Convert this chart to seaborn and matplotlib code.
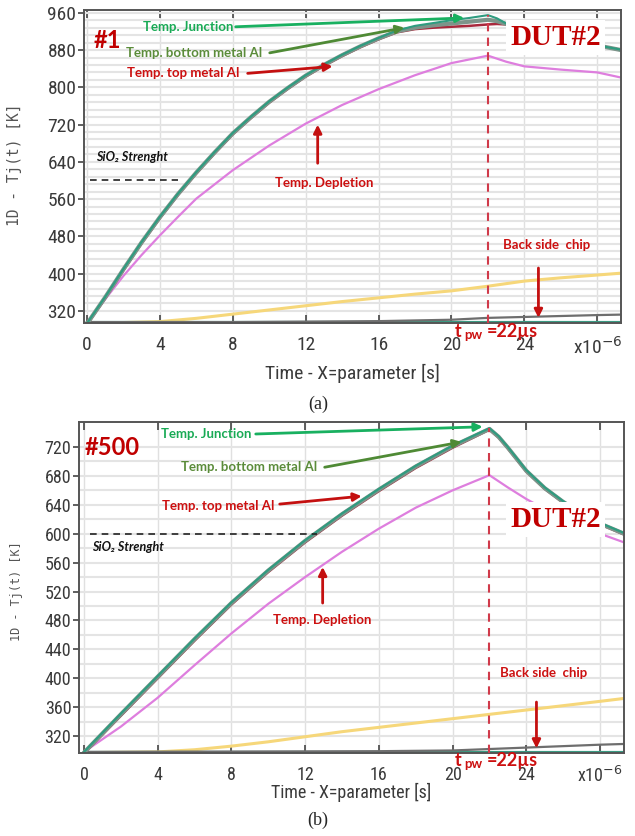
import numpy as np
import pandas as pd
import matplotlib
matplotlib.use("Agg")
import matplotlib.pyplot as plt
import seaborn as sns
from matplotlib import font_manager as fm

sns.set_theme(style="white")
plt.rcParams["font.family"] = ["DejaVu Sans"]


def has_font(name):
    try:
        fm.findfont(fm.FontProperties(family=name), fallback_to_default=False)
        return True
    except Exception:
        return False


NARROW = None
for cand in ["Liberation Sans Narrow", "Roboto Condensed", "Open Sans Condensed",
             "Noto Sans Condensed", "DejaVu Sans Condensed"]:
    if has_font(cand):
        NARROW = cand
        break
TICKFONT = NARROW if NARROW else "DejaVu Sans"
TSCALE = 1.0 if NARROW else 0.82
ANNFONT = ["Lato", "DejaVu Sans"]

# ---------------- data: panel (a)  (#1) ----------------
t_a_main = [0, 1, 2, 3, 4, 5, 6, 7, 8, 9, 10, 11, 12, 13, 14, 15, 16, 17, 18, 19, 20, 21, 22, 22.5, 23, 23.5, 24, 26, 28, 29.3]
junction_a = [293, 350, 410, 468, 522, 572, 618, 661, 702, 737, 770, 799, 826, 849, 870, 889, 906, 922, 932, 938, 944, 949, 955, 948, 937, 928, 920, 904, 890, 881]
bottom_metal_a = [292, 349, 409, 467, 521, 571, 617, 660, 701, 736, 769, 798, 825, 848, 869, 888, 905, 920, 928, 933, 937, 941, 945, 942, 936, 930, 923, 905, 890, 880]
top_metal_a = [290, 347, 407, 465, 519, 569, 615, 658, 699, 734, 767, 796, 823, 846, 867, 886, 903, 918, 925, 928, 930, 932, 935, 936, 935, 932, 926, 906, 890, 880]
t_a_depl = [0, 1, 2, 3, 4, 5, 6, 8, 10, 12, 14, 16, 18, 20, 22, 23, 24, 26, 28, 29.3]
depletion_a = [293, 345, 395, 440, 482, 522, 561, 622, 675, 722, 762, 796, 826, 852, 868, 855, 845, 838, 832, 821]
t_a_back = [0, 2, 4, 6, 8, 10, 12, 14, 16, 18, 20, 22, 24, 26, 28, 29.3]
backside_a = [295, 295, 297, 304, 313, 322, 331, 340, 348, 356, 363, 373, 384, 391, 397, 401]
t_a_gray = [0, 8, 16, 20, 22, 24, 26, 28, 29.3]
gray_a = [296, 296, 298, 301, 305, 307, 309, 311, 312]
t_a_flat = [0, 29.3]
flat_a = [295, 295]

# ---------------- data: panel (b)  (#500) ----------------
t_b_main = [0, 2, 4, 6, 8, 10, 12, 14, 16, 18, 20, 22, 22.5, 23, 24, 25, 26, 27, 28, 29.3]
junction_b = [298, 351, 403, 455, 505, 550, 591, 628, 662, 694, 722, 746, 735, 720, 688, 664, 645, 629, 615, 601]
bottom_metal_b = [297, 350, 402, 454, 504, 549, 590, 627, 661, 693, 721, 745, 734, 719, 687, 663, 644, 628, 614, 600]
top_metal_b = [296, 348, 400, 452, 502, 547, 588, 625, 659, 691, 719, 744, 733, 718, 686, 662, 643, 627, 613, 599]
t_b_depl = [0, 2, 4, 6, 8, 10, 12, 14, 16, 18, 20, 22, 23, 24, 25, 26, 27, 28, 29.3]
depletion_b = [298, 333, 373, 418, 462, 503, 540, 575, 607, 636, 660, 681, 664, 648, 634, 621, 610, 600, 588]
t_b_back = [0, 4, 6, 8, 10, 12, 14, 16, 18, 20, 22, 24, 26, 28, 29.3]
backside_b = [297, 298, 301, 306, 312, 319, 326, 332, 338, 344, 350, 356, 362, 368, 372]
t_b_gray = [0, 16, 20, 22, 24, 26, 28, 29.3]
gray_b = [298, 299, 300, 302, 304, 306, 308, 309]
t_b_flat = [0, 29.3]
flat_b = [297, 297]

x_ticks = [0, 4, 8, 12, 16, 20, 24, 28]
x_tick_labels = ["0", "4", "8", "12", "16", "20", "24", "x10$^{-6}$"]
y_ticks_a = [320, 400, 480, 560, 640, 720, 800, 880, 960]
y_ticks_b = [320, 360, 400, 440, 480, 520, 560, 600, 640, 680, 720]
t_pw = 22
sio2_limit = 600

C_JUNC = "#2f9c80"
C_BOT = "#7d948a"
C_TOP = "#a8283c"
C_DEPL = "#de7ede"
C_BACK = "#f6d77a"
C_GRAY = "#6e6e6e"
C_FLAT = "#3a9a82"
RED = "#cc1010"
DARKRED = "#c00000"
GREEN_T = "#19aa55"
OLIVE_T = "#5b8c3a"

fig = plt.figure(figsize=(6.35, 8.36), dpi=100)
W, H = 635, 836


def add_axes_px(left, top, right, bottom):
    return fig.add_axes([left / W, 1 - bottom / H, (right - left) / W, (bottom - top) / H])


def draw_lines(ax, series):
    for t, v, color, lw in series:
        df = pd.DataFrame({"t": t, "v": v})
        sns.lineplot(data=df, x="t", y="v", ax=ax, color=color, lw=lw,
                     estimator=None, sort=False, legend=False)


def style_axes(ax, xlim, ylim, yticks, ystep, tsize, ylab_size, ylab_pos, xlab_top):
    tsize = tsize * TSCALE
    ax.set_xlim(*xlim)
    ax.set_ylim(*ylim)
    ax.set_xticks(x_ticks)
    ax.set_xticklabels(x_tick_labels)
    ax.set_yticks(yticks)
    ax.set_yticks(np.arange(yticks[0], yticks[-1] + 1, ystep), minor=True)
    ax.set_axisbelow(True)
    ax.grid(which="major", axis="x", color="#e0e0e0", lw=1.0)
    ax.grid(which="both", axis="y", color="#e4e4e4", lw=1.5)
    ax.tick_params(axis="x", direction="in", top=True, bottom=True, length=6,
                   width=1.2, color="#444444", pad=9, labelsize=tsize, labelcolor="#3a3a3a")
    ax.tick_params(axis="y", which="major", direction="out", left=True, length=4,
                   width=1.2, color="#444444", pad=1.5, labelsize=tsize, labelcolor="#3a3a3a")
    ax.tick_params(axis="y", which="minor", length=0)
    for lab in ax.get_xticklabels() + ax.get_yticklabels():
        lab.set_family(TICKFONT)
    sec = ax.secondary_yaxis("right")
    sec.set_yticks(yticks)
    sec.tick_params(direction="in", length=5, width=1.2, color="#444444", labelright=False)
    sec.spines["right"].set_visible(False)
    for s in ax.spines.values():
        s.set_color("#555555")
        s.set_linewidth(1.4)
    ax.set_xlabel("Time - X=parameter [s]", family=TICKFONT, size=tsize, color="#3a3a3a")
    ax.xaxis.set_label_coords(0.5, xlab_top)
    ax.set_ylabel("1D - Tj(t) [K]", family="DejaVu Sans Mono", size=ylab_size, color="#555555")
    ax.yaxis.set_label_coords(*ylab_pos)


def annotate_panel(ax, ann):
    kw = dict(family=ANNFONT, weight="bold", ha="center", va="center")
    ax.text(*ann["num_xy"], ann["num"], color=DARKRED, size=17, **kw)
    ax.text(*ann["junc_xy"], "Temp. Junction", color=GREEN_T, size=9.5, **kw)
    ax.text(*ann["bot_xy"], "Temp. bottom metal Al", color=OLIVE_T, size=9.5, **kw)
    ax.text(*ann["top_xy"], "Temp. top metal Al", color=RED, size=9.5, **kw)
    ax.text(*ann["depl_xy"], "Temp. Depletion", color=RED, size=9.5, **kw)
    ax.text(*ann["back_xy"], "Back side  chip", color=RED, size=9.5, **kw)
    ax.text(*ann["sio2_xy"], "SiO\u2082 Strenght", color="#111111", size=9, style="italic",
            family=ANNFONT, weight="bold", ha="center", va="center")
    ax.text(*ann["dut_xy"], "DUT#2", color=DARKRED, size=21, family="Liberation Serif",
            weight="bold", ha="center", va="center", zorder=6,
            bbox=dict(facecolor="white", edgecolor="none", pad=3))
    for key, color in [("junc_arr", "#19b060"), ("bot_arr", "#4f8a35"),
                       ("top_arr", "#c41010"), ("depl_arr", "#c41010"), ("back_arr", "#c41010")]:
        (x0, y0), (x1, y1) = ann[key]
        ax.annotate("", xy=(x1, y1), xytext=(x0, y0), zorder=7,
                    arrowprops=dict(arrowstyle="-|>", color=color, lw=2.0,
                                    mutation_scale=12, shrinkA=0, shrinkB=0))
    tx, ty = ann["tpw_xy"]
    ax.text(tx, ty, "t", color=RED, size=13, family=ANNFONT, weight="bold",
            ha="left", va="center", clip_on=False, zorder=8)
    ax.text(tx + 0.55, ty - ann["sub_dy"], "pw", color=RED, size=9.5, family=ANNFONT,
            weight="bold", ha="left", va="center", clip_on=False, zorder=8)
    ax.text(tx + 1.75, ty, "=22\u00b5s", color=RED, size=13, family=ANNFONT,
            weight="bold", ha="left", va="center", clip_on=False, zorder=8)


# ---------------- panel (a) ----------------
ax_a = add_axes_px(84, 10, 621, 323)
draw_lines(ax_a, [
    (t_a_back, backside_a, C_BACK, 2.2),
    (t_a_flat, flat_a, C_FLAT, 3.0),
    (t_a_gray, gray_a, C_GRAY, 1.6),
    (t_a_depl, depletion_a, C_DEPL, 1.6),
    (t_a_main, top_metal_a, C_TOP, 1.8),
    (t_a_main, bottom_metal_a, C_BOT, 3.0),
    (t_a_main, junction_a, C_JUNC, 1.5),
])
ax_a.vlines(t_pw, 294, max(junction_a), colors="#d03a4a", linestyles=(0, (4, 3)), lw=1.5, zorder=5)
ax_a.hlines(sio2_limit, 0.16, 4.99, colors="#222222", linestyles=(0, (4, 3)), lw=1.2, zorder=5)
style_axes(ax_a, (-0.16, 29.3), (294, 966), y_ticks_a, 16, 14, 10.5,
           (-0.115, 0.505), -0.13)
annotate_panel(ax_a, dict(
    num="#1", num_xy=(1.15, 900),
    junc_xy=(5.53, 930), junc_arr=((8.16, 930), (20.7, 949)),
    bot_xy=(5.86, 874), bot_arr=((10.03, 874), (17.42, 928)),
    top_xy=(5.26, 830), top_arr=((8.82, 830), (13.48, 845)),
    depl_xy=(12.99, 594), depl_arr=((12.66, 637), (12.66, 720)),
    sio2_xy=(2.47, 650),
    dut_xy=(25.7, 907),
    back_xy=(25.2, 462), back_arr=((24.77, 412), (24.77, 305)),
    tpw_xy=(20.16, 276), sub_dy=8,
))

# ---------------- panel (b) ----------------
ax_b = add_axes_px(79, 422, 624, 753)
draw_lines(ax_b, [
    (t_b_back, backside_b, C_BACK, 2.2),
    (t_b_flat, flat_b, C_FLAT, 3.0),
    (t_b_gray, gray_b, C_GRAY, 1.6),
    (t_b_depl, depletion_b, C_DEPL, 1.6),
    (t_b_main, top_metal_b, C_TOP, 1.8),
    (t_b_main, bottom_metal_b, C_BOT, 3.0),
    (t_b_main, junction_b, C_JUNC, 1.5),
])
ax_b.vlines(t_pw, 296.5, max(junction_b), colors="#d03a4a", linestyles=(0, (4, 3)), lw=1.5, zorder=5)
ax_b.hlines(sio2_limit, 0.33, 12.63, colors="#222222", linestyles=(0, (4, 3)), lw=1.2, zorder=5)
style_axes(ax_b, (-0.27, 29.3), (296.5, 754.6), y_ticks_b, 20, 13, 8.5,
           (-0.103, 0.49), -0.09)
annotate_panel(ax_b, dict(
    num="#500", num_xy=(1.52, 720),
    junc_xy=(6.61, 738), junc_arr=((9.32, 738), (21.63, 748)),
    bot_xy=(8.94, 692), bot_arr=((13.06, 692), (20.49, 727)),
    top_xy=(7.26, 638), top_arr=((10.62, 641), (15.07, 652)),
    depl_xy=(12.95, 481), depl_arr=((12.95, 504), (12.95, 554)),
    sio2_xy=(2.38, 582),
    dut_xy=(25.58, 620),
    back_xy=(24.93, 407), back_arr=((24.55, 367), (24.55, 303)),
    tpw_xy=(20.1, 286), sub_dy=5,
))

fig.text(318 / W, 1 - 404 / H, "(a)", family="Liberation Serif", size=13, ha="center", va="center")
fig.text(318 / W, 1 - 820 / H, "(b)", family="Liberation Serif", size=13, ha="center", va="center")

fig.savefig("out.png", dpi=100, facecolor="white")
